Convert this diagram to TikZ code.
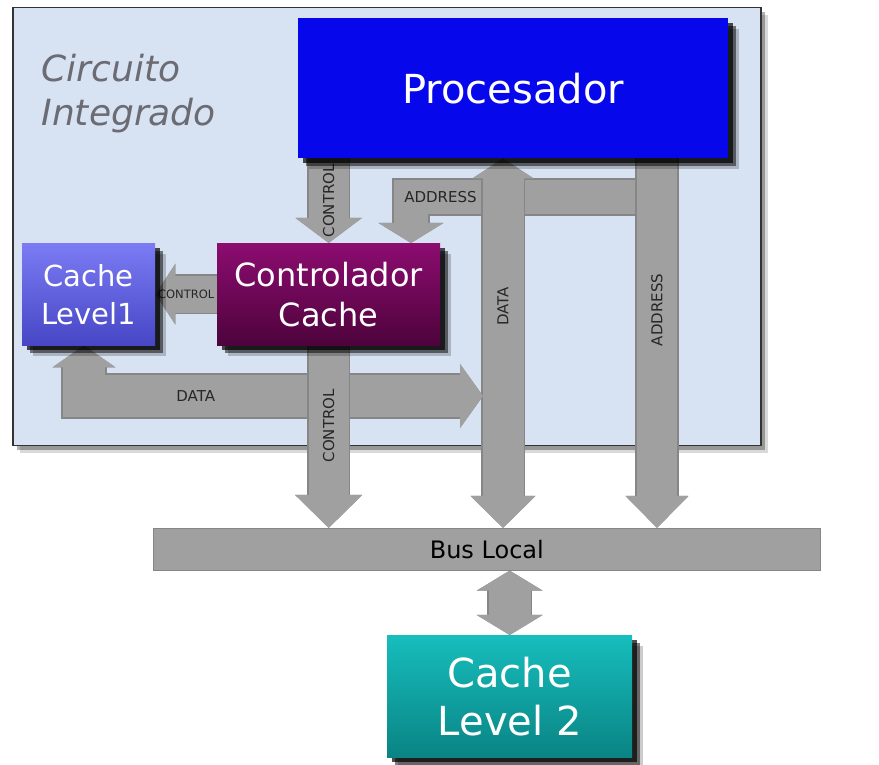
\documentclass[tikz,border=0pt]{standalone}
\usepackage{fontspec}
\setmainfont{DejaVu Sans}
\usetikzlibrary{arrows.meta,shadows}

\definecolor{chipfill}{HTML}{D7E2F3}
\definecolor{chiptext}{HTML}{6B6B73}
\definecolor{busgray}{HTML}{A0A0A0}
\definecolor{busedge}{HTML}{868686}
\definecolor{procblue}{HTML}{0707EC}
\definecolor{loneA}{HTML}{7B7BF4}
\definecolor{loneB}{HTML}{4747C6}
\definecolor{ctrlA}{HTML}{8C0C70}
\definecolor{ctrlB}{HTML}{4E033C}
\definecolor{ltwoA}{HTML}{17BDBD}
\definecolor{ltwoB}{HTML}{0A8484}

\pgfdeclarelayer{back}
\pgfdeclarelayer{wires}
\pgfsetlayers{back,wires,main}

\tikzset{
  softshadow/.style={
    drop shadow={shadow xshift=11pt, shadow yshift=-11pt, opacity=.2, fill=black},
    drop shadow={shadow xshift=8pt, shadow yshift=-8pt, opacity=.5, fill=black},
    drop shadow={shadow xshift=5pt, shadow yshift=-5pt, opacity=.7, fill=black}},
  unit/.style={anchor=north west, inner sep=0pt, align=center, text=white, softshadow},
  busarrow/.style={draw=busgray, line join=miter,
    preaction={draw=busedge, line width=\pgflinewidth+1.6pt}},
  lbl/.style={text=black!85, font=\fontsize{15}{18}\selectfont},
}

\begin{document}
\begin{tikzpicture}[x=1pt,y=1pt]
  \useasboundingbox (0,0) rectangle (879,764);

  % the chip
  \begin{pgfonlayer}{back}
    \fill[white] (0,0) rectangle (879,764);
    \node[anchor=north west, minimum width=748pt, minimum height=438pt, fill=chipfill,
      draw=black!80, line width=1.5pt,
      drop shadow={shadow xshift=7pt, shadow yshift=-7pt, opacity=.15, fill=black},
      drop shadow={shadow xshift=4pt, shadow yshift=-4pt, opacity=.3, fill=black}]
      (chip) at (12,757) {};
  \end{pgfonlayer}
  \node[anchor=base west, align=left, text=chiptext, font=\fontsize{36}{44}\selectfont\itshape]
    (chiplbl) at (38,638) {Circuito\\Integrado};

  % units
  \node[unit, minimum width=430pt, minimum height=140pt, fill=procblue,
    font=\fontsize{40}{48}\selectfont] (proc) at (298,746) {Procesador};
  \node[unit, minimum width=133pt, minimum height=102pt, top color=loneA, bottom color=loneB,
    font=\fontsize{29}{38}\selectfont] (lone) at (22,521) {Cache\\Level1};
  \node[unit, minimum width=223pt, minimum height=102pt, top color=ctrlA, bottom color=ctrlB,
    font=\fontsize{32}{40}\selectfont] (ctrl) at (217,521) {Controlador\\Cache};
  \node[unit, minimum width=245pt, minimum height=122pt, top color=ltwoA, bottom color=ltwoB,
    font=\fontsize{40}{48}\selectfont] (ltwo) at (387,129) {Cache\\Level 2};
  \node[anchor=north west, minimum width=667pt, minimum height=42pt, fill=busgray,
    draw=busedge, line width=0.6pt, font=\fontsize{24}{28}\selectfont] (bus) at (153,236) {Bus Local};

  \coordinate (dcol) at (503,0);
  \coordinate (acol) at (657,0);
  \coordinate (abend) at (411,567);
  \coordinate (dbend) at (84,368);
  \coordinate (dend) at (483,368);

  \begin{pgfonlayer}{wires}
    % address
    \draw[busarrow, line width=34pt, -{Triangle[length=20pt,width=64pt]}]
      (acol |- abend) -- node[lbl, pos=0.88] {ADDRESS} (abend) -- (abend |- ctrl.north);
    \draw[busarrow, line width=40pt, -{Triangle[length=32pt,width=61pt]}]
      (acol |- proc.south) -- node[lbl, rotate=90, pos=0.41] {ADDRESS} (acol |- bus.north);
    % data
    \draw[busarrow, line width=41pt, {Triangle[length=20pt,width=60pt]}-{Triangle[length=32pt,width=63pt]}]
      (dcol |- proc.south) -- node[lbl, rotate=90, pos=0.4] {DATA} (dcol |- bus.north);
    \draw[busarrow, line width=42pt, {Triangle[length=22pt,width=62pt]}-{Triangle[length=23pt,width=63pt]}]
      (lone.south -| dbend) -- (dbend) -- node[lbl, pos=0.28] {DATA} (dend);
    % control
    \draw[busarrow, line width=40pt, -{Triangle[length=33pt,width=65pt]}]
      (ctrl.south) -- node[lbl, rotate=90, pos=0.44] {CONTROL} (ctrl.south |- bus.north);
    \draw[busarrow, line width=40pt, -{Triangle[length=25pt,width=65pt]}]
      (ctrl.north |- proc.south) -- node[lbl, rotate=90] {CONTROL} (ctrl.north);
    \draw[busarrow, line width=37pt, -{Triangle[length=20pt,width=60pt]}]
      (ctrl.west) -- node[lbl, font=\fontsize{11.5}{14}\selectfont] {CONTROL} (lone.east);
    % bus and level 2
    \draw[busarrow, line width=42pt, {Triangle[length=20pt,width=65pt]}-{Triangle[length=20pt,width=65pt]}]
      (bus.south -| ltwo.north) -- (ltwo.north);
  \end{pgfonlayer}
\end{tikzpicture}
\end{document}
